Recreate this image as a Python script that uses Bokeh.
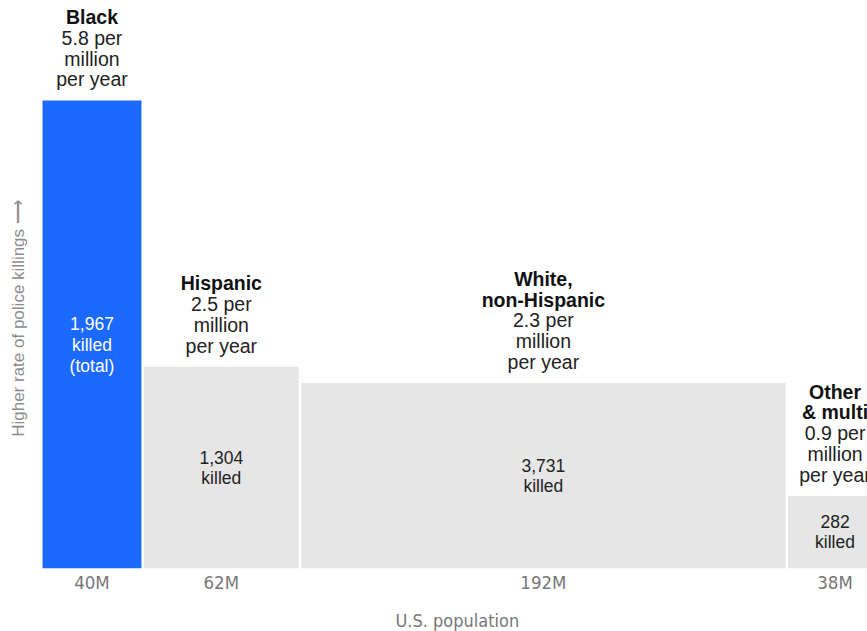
import math

from bokeh.core.properties import value
from bokeh.embed import file_html
from bokeh.models import ColumnDataSource, FixedTicker, Title
from bokeh.plotting import figure
from bokeh.resources import INLINE

# Police killings by race/ethnicity: bar width = population, bar height = rate
groups = ["Black", "Hispanic", "White, non-Hispanic", "Other & multi"]
name_lines = [["Black"], ["Hispanic"], ["White,", "non-Hispanic"], ["Other", "& multi"]]
population_m = [40, 62, 192, 38]          # U.S. population, millions
rate_per_million = [5.8, 2.5, 2.3, 0.9]   # killed per million per year
killed_total = [1967, 1304, 3731, 282]
pop_labels = ["40M", "62M", "192M", "38M"]
highlight = ["Black"]

BLUE = "#1b69ff"
GRAY = "#e6e6e6"
SANS = "Liberation Sans"
NARROW = "'Liberation Sans Narrow', 'DejaVu Sans Condensed', 'Liberation Sans'"

W, H = 867, 631
LEFT_PX = 42          # left edge of first bar
BOTTOM_PX = 63        # space below baseline for the population axis
PX_PER_M = 2.536
PX_PER_UNIT = 80.69
GAP_PX = 2.5
LINE_PX = 20.8

x_start = -LEFT_PX / PX_PER_M
x_end = (W - LEFT_PX) / PX_PER_M
y_end = (H - BOTTOM_PX) / PX_PER_UNIT
gap = GAP_PX / PX_PER_M

# bar geometry from cumulative population
lefts, rights, centers = [], [], []
acc = 0.0
for pop in population_m:
    lefts.append(acc)
    rights.append(acc + pop - gap)
    centers.append(acc + (pop - gap) / 2)
    acc += pop

colors = [BLUE if g in highlight else GRAY for g in groups]
bars = ColumnDataSource(dict(left=lefts, right=rights, top=rate_per_million,
                             bottom=[0] * len(groups), color=colors))

p = figure(width=W, height=H, x_range=(x_start, x_end), y_range=(0, y_end),
           output_backend="svg", toolbar_location=None,
           min_border_left=0, min_border_right=0, min_border_top=0,
           min_border_bottom=0)
p.outline_line_color = None
p.background_fill_color = "white"
p.border_fill_color = "white"
p.grid.visible = False
p.yaxis.visible = False

p.quad(left="left", right="right", top="top", bottom="bottom", source=bars,
       fill_color="color", line_color=None)

# labels above each bar: bold group name, then the rate
bold_x, bold_y, bold_t, bold_off = [], [], [], []
reg_x, reg_y, reg_t, reg_off = [], [], [], []
for i, g in enumerate(groups):
    rate_lines = [f"{rate_per_million[i]} per", "million", "per year"]
    lines = name_lines[i] + rate_lines
    n = len(lines)
    for k, line in enumerate(lines):
        off = -(21 + (n - 1 - k) * LINE_PX)
        if k < len(name_lines[i]):
            bold_x.append(centers[i]); bold_y.append(rate_per_million[i])
            bold_t.append(line); bold_off.append(off)
        else:
            reg_x.append(centers[i]); reg_y.append(rate_per_million[i])
            reg_t.append(line); reg_off.append(off)

p.text(x="x", y="y", text="t", y_offset="off",
       source=ColumnDataSource(dict(x=bold_x, y=bold_y, t=bold_t, off=bold_off)),
       text_font=value(SANS), text_font_style="bold", text_font_size="19.5px",
       text_color="#111111", text_align="center", text_baseline="middle")
p.text(x="x", y="y", text="t", y_offset="off",
       source=ColumnDataSource(dict(x=reg_x, y=reg_y, t=reg_t, off=reg_off)),
       text_font=value(SANS), text_font_size="19.5px",
       text_color="#222222", text_align="center", text_baseline="middle")

# killed counts inside each bar
in_x, in_y, in_t, in_off, in_col = [], [], [], [], []
for i, g in enumerate(groups):
    lines = [f"{killed_total[i]:,}", "killed"]
    if g in highlight:
        lines.append("(total)")
    col = "white" if g in highlight else "#222222"
    for k, line in enumerate(lines):
        in_x.append(centers[i]); in_y.append(rate_per_million[i] / 2)
        in_t.append(line); in_off.append(-10.5 + k * LINE_PX); in_col.append(col)

p.text(x="x", y="y", text="t", y_offset="off", text_color="col",
       source=ColumnDataSource(dict(x=in_x, y=in_y, t=in_t, off=in_off, col=in_col)),
       text_font=value(SANS), text_font_size="17.5px",
       text_align="center", text_baseline="middle")

# rotated y-axis caption
p.text(x=[(18 - LEFT_PX) / PX_PER_M], y=[(H - BOTTOM_PX - 318) / PX_PER_UNIT],
       text=["Higher rate of police killings \u27f6"], angle=math.pi / 2,
       text_font=value(SANS), text_font_size="17px", text_color="#8c8c8c",
       text_align="center", text_baseline="middle")

# population axis: one tick per bar
tick_pos = [round(c, 4) for c in centers]
p.xaxis.ticker = FixedTicker(ticks=tick_pos)
p.xaxis.major_label_overrides = {t: lab for t, lab in zip(tick_pos, pop_labels)}
p.xaxis.axis_line_color = None
p.xaxis.major_tick_line_color = None
p.xaxis.minor_tick_line_color = None
p.xaxis.major_label_standoff = -3
p.xaxis.major_label_text_font = NARROW
p.xaxis.major_label_text_font_size = "18.5px"
p.xaxis.major_label_text_color = "#777777"
# blank spacer label below the tick labels
p.xaxis.axis_label = " "
p.xaxis.axis_label_text_font_size = "8px"
p.xaxis.axis_label_standoff = 0

# axis caption under the bars, offset to the centre of the bar span
caption = Title(text="U.S. population", align="left", offset=395,
                text_font=NARROW, text_font_size="18px",
                text_font_style="normal", text_color="#777777", standoff=1)
p.add_layout(caption, "below")

open("out.html", "w").write(file_html(p, INLINE))
